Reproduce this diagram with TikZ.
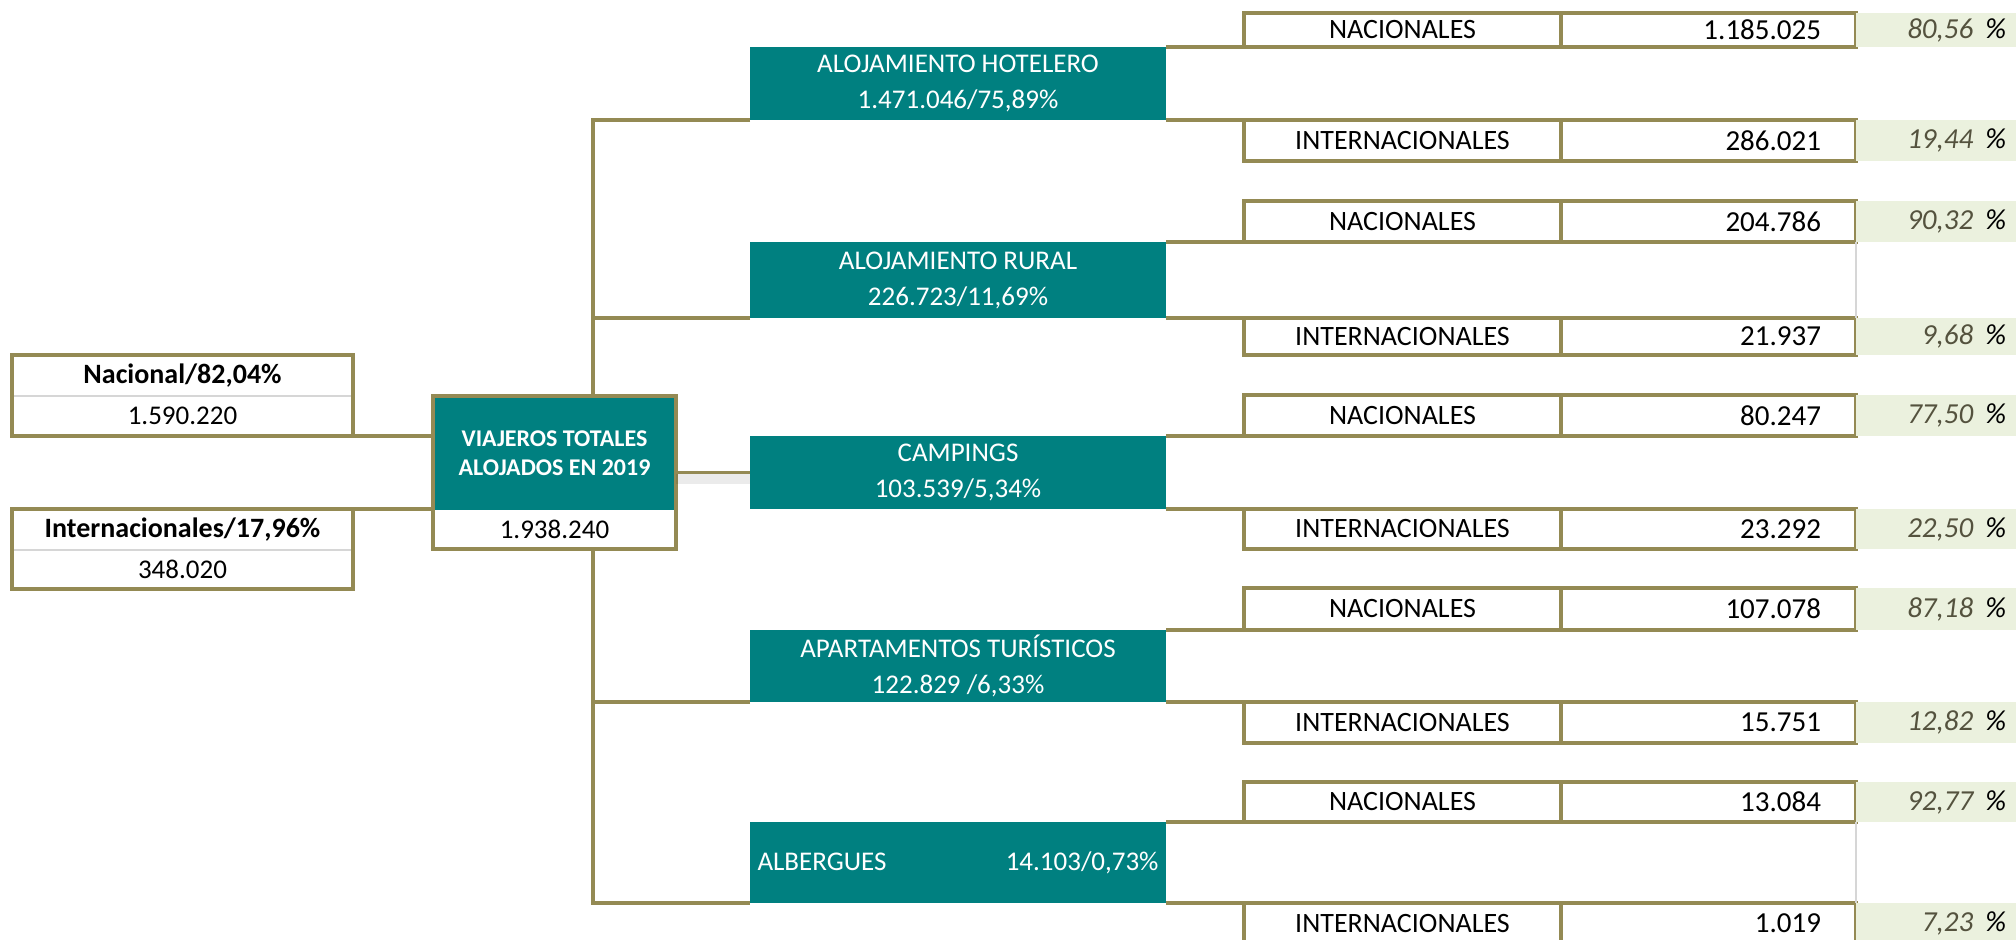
\documentclass[tikz,border=0pt]{standalone}
\usepackage{fontspec}
\setmainfont{Carlito}
\usepackage{tikz}
\usetikzlibrary{positioning}

\definecolor{verdeazul}{RGB}{0,128,128}
\definecolor{oliva}{RGB}{148,138,84}
\definecolor{verdeclaro}{RGB}{235,241,222}
\definecolor{grisclaro}{RGB}{214,214,214}
\definecolor{grispct}{RGB}{84,82,62}

\begin{document}
\begin{tikzpicture}[x=0.5pt,y=-0.5pt,outer sep=0pt,
    font=\fontsize{13.5}{18}\selectfont,
    tipo/.style={fill=verdeazul, text=white, minimum width=208pt, inner sep=0pt, align=center},
    linea/.style={draw=oliva, line width=1.6pt},
    gris/.style={draw=grisclaro, line width=0.7pt},
    sombra/.style={draw=black, line width=5pt, opacity=0.08},
    rotulo/.style={linea, minimum width=158.5pt, minimum height=#1, inner sep=0pt, font=\fontsize{14}{18}\selectfont},
    rotulo/.default=20.5pt,
    cifra/.style={linea, minimum width=147.5pt, minimum height=#1, inner xsep=17.5pt, inner ysep=0pt, text width=112.5pt, align=right, font=\fontsize{14.5}{18}\selectfont},
    cifra/.default=20.5pt,
    pct/.style={fill=verdeclaro, minimum width=80pt, minimum height=#1, inner xsep=5pt, inner ysep=0pt, text width=70pt, align=right, font=\fontsize{14.5}{18}\selectfont\itshape},
    pct/.default=20.5pt,
    titulo/.style={minimum width=170.5pt, minimum height=20.5pt, inner sep=0pt, font=\fontsize{14}{18}\selectfont\bfseries},
    valor/.style={minimum width=170.5pt, minimum height=#1, inner sep=0pt},
    valor/.default=20pt]
    \clip (0,0) rectangle (2016,940);

    % totales
    \node[tipo, minimum width=121.5pt, minimum height=57pt, anchor=north west, font=\fontsize{12}{14.5}\selectfont\bfseries] (totT) at (433,396) {VIAJEROS TOTALES\\ALOJADOS EN 2019};
    \node[valor=19.5pt, minimum width=121.5pt, below=0pt of totT] (totV) {1.938.240};
    \draw[linea] (totT.north west) rectangle (totV.south east);

    % origen
    \node[titulo, anchor=north west] (nalT) at (12,355) {Nacional/82,04\%};
    \node[valor, below=0pt of nalT] (nalV) {1.590.220};
    \node[titulo, anchor=north west] (extT) at (12,509) {Internacionales/17,96\%};
    \node[valor=19.5pt, below=0pt of extT] (extV) {348.020};
    \draw[gris] (nalT.south west) -- (nalT.south east) (extT.south west) -- (extT.south east);
    \draw[linea] (nalT.north west) rectangle (nalV.south east) (extT.north west) rectangle (extV.south east);
    \draw[linea] (nalV.south east) -- (nalV.south east -| totT.west)
                 (extT.north east) -- (extT.north east -| totT.west);

    % tipos de alojamiento
    \node[tipo, minimum height=36.5pt] (hot) at (958,83.5) {ALOJAMIENTO HOTELERO\\1.471.046/75,89\%};
    \node[tipo, minimum height=38pt] (rur) at (958,280) {ALOJAMIENTO RURAL\\226.723/11,69\%};
    \node[tipo, minimum height=36.5pt] (cam) at (958,472.5) {CAMPINGS\\103.539/5,34\%};
    \node[tipo, minimum height=36pt] (apa) at (958,666) {APARTAMENTOS TURÍSTICOS\\122.829 /6,33\%};
    \node[tipo, minimum height=40.5pt] (alb) at (958,862.5) {\makebox[200.5pt]{ALBERGUES\hfill 14.103/0,73\%}};

    % hotelero
    \node[rotulo=17pt, anchor=south west] (hotN) at ([xshift=39pt]hot.north east) {NACIONALES};
    \node[cifra=17pt, right=0pt of hotN] (hotNc) {1.185.025};
    \node[pct=17pt, right=0pt of hotNc] (hotNp) {\textcolor{grispct}{80,56}\hspace{6pt}\%};
    \node[rotulo, anchor=north west] (hotI) at ([xshift=39pt]hot.south east) {INTERNACIONALES};
    \node[cifra, right=0pt of hotI] (hotIc) {286.021};
    \node[pct, right=0pt of hotIc] (hotIp) {\textcolor{grispct}{19,44}\hspace{6pt}\%};

    % rural
    \node[rotulo, anchor=south west] (rurN) at ([xshift=39pt]rur.north east) {NACIONALES};
    \node[cifra, right=0pt of rurN] (rurNc) {204.786};
    \node[pct, right=0pt of rurNc] (rurNp) {\textcolor{grispct}{90,32}\hspace{6pt}\%};
    \node[rotulo=18.5pt, anchor=north west] (rurI) at ([xshift=39pt]rur.south east) {INTERNACIONALES};
    \node[cifra=18.5pt, right=0pt of rurI] (rurIc) {21.937};
    \node[pct=18.5pt, right=0pt of rurIc] (rurIp) {\textcolor{grispct}{9,68}\hspace{6pt}\%};

    % campings
    \node[rotulo, anchor=south west] (camN) at ([xshift=39pt]cam.north east) {NACIONALES};
    \node[cifra, right=0pt of camN] (camNc) {80.247};
    \node[pct, right=0pt of camNc] (camNp) {\textcolor{grispct}{77,50}\hspace{6pt}\%};
    \node[rotulo=20pt, anchor=north west] (camI) at ([xshift=39pt]cam.south east) {INTERNACIONALES};
    \node[cifra=20pt, right=0pt of camI] (camIc) {23.292};
    \node[pct=20pt, right=0pt of camIc] (camIp) {\textcolor{grispct}{22,50}\hspace{6pt}\%};

    % apartamentos
    \node[rotulo=21pt, anchor=south west] (apaN) at ([xshift=39pt]apa.north east) {NACIONALES};
    \node[cifra=21pt, right=0pt of apaN] (apaNc) {107.078};
    \node[pct=21pt, right=0pt of apaNc] (apaNp) {\textcolor{grispct}{87,18}\hspace{6pt}\%};
    \node[rotulo, anchor=north west] (apaI) at ([xshift=39pt]apa.south east) {INTERNACIONALES};
    \node[cifra, right=0pt of apaI] (apaIc) {15.751};
    \node[pct, right=0pt of apaIc] (apaIp) {\textcolor{grispct}{12,82}\hspace{6pt}\%};

    % albergues
    \node[rotulo=20pt, anchor=south west] (albN) at ([xshift=39pt]alb.north east) {NACIONALES};
    \node[cifra=20pt, right=0pt of albN] (albNc) {13.084};
    \node[pct=20pt, right=0pt of albNc] (albNp) {\textcolor{grispct}{92,77}\hspace{6pt}\%};
    \node[rotulo, anchor=north west] (albI) at ([xshift=39pt]alb.south east) {INTERNACIONALES};
    \node[cifra, right=0pt of albI] (albIc) {1.019};
    \node[pct, right=0pt of albIc] (albIp) {\textcolor{grispct}{7,23}\hspace{6pt}\%};

    % conexiones
    \coordinate (tronco) at (593,0);
    \coordinate (enlace) at (totT.east |- cam.west);
    \draw[sombra] ([yshift=-3pt]enlace) -- ([yshift=-3pt]cam.west);
    \draw[linea] (enlace) -- (cam.west);
    \draw[linea] (hot.south west) -- (hot.south west -| tronco) -- (totT.north -| tronco)
                 (totV.south -| tronco) -- (alb.south west -| tronco) -- (alb.south west)
                 (rur.south west) -- (rur.south west -| tronco)
                 (apa.south west) -- (apa.south west -| tronco);
    \draw[linea] (hot.north east) -- (hotN.south west) (hot.south east) -- (hotI.north west)
                 (rur.north east) -- (rurN.south west) (rur.south east) -- (rurI.north west)
                 (cam.north east) -- (camN.south west) (cam.south east) -- (camI.north west)
                 (apa.north east) -- (apaN.south west) (apa.south east) -- (apaI.north west)
                 (alb.north east) -- (albN.south west) (alb.south east) -- (albI.north west);
    \draw[gris] (rurNc.south east) -- (rurIc.north east) (albNc.south east) -- (albIc.north east);
\end{tikzpicture}
\end{document}
